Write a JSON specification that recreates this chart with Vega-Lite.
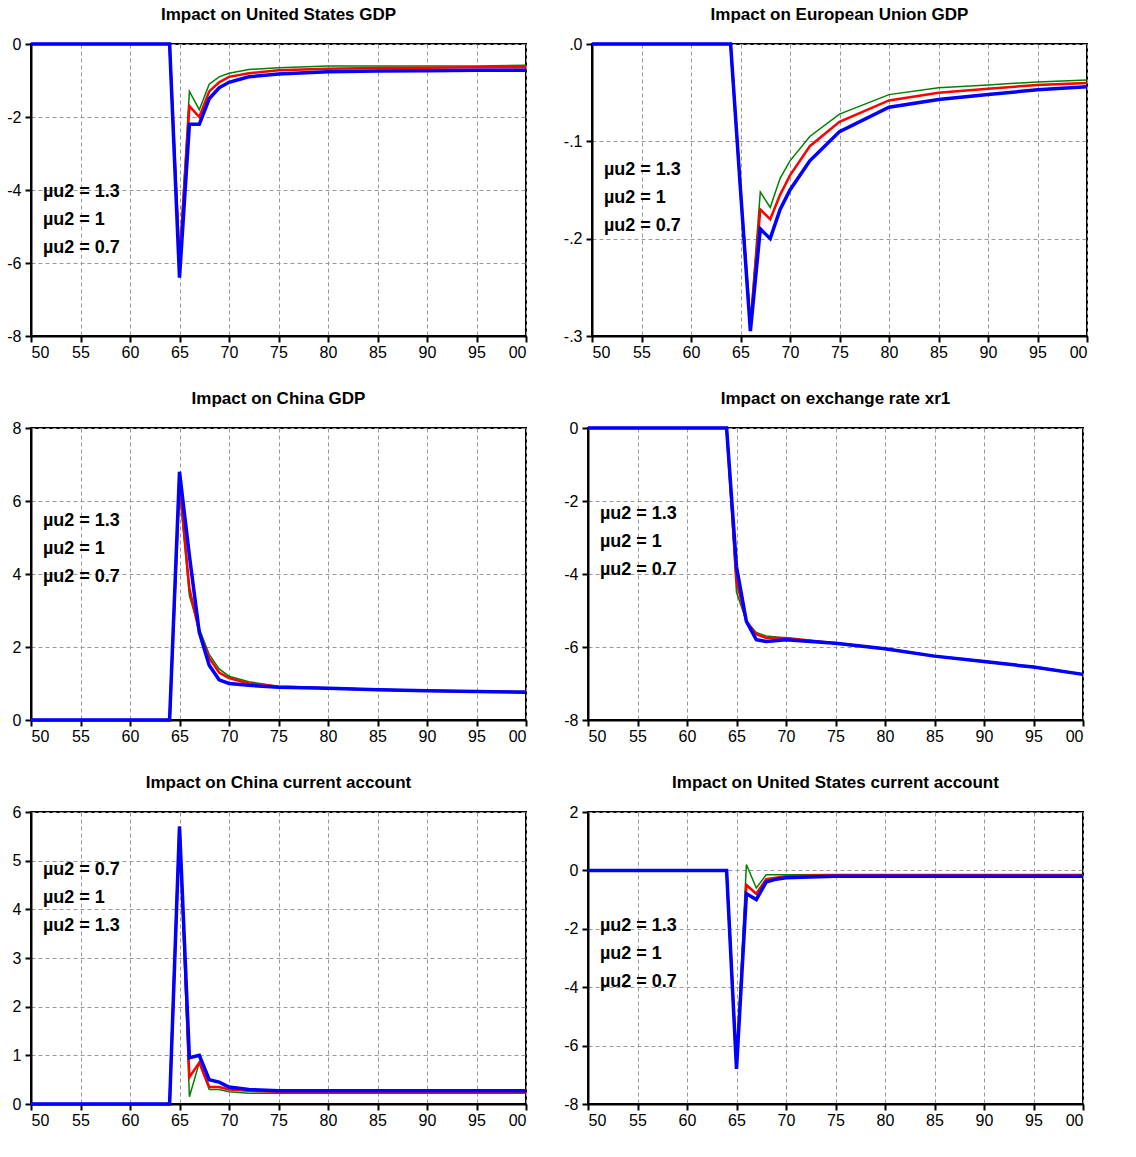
{
  "$schema": "https://vega.github.io/schema/vega-lite/v6.json",
  "background": "white",
  "padding": {"left": 5, "top": 5, "right": 5, "bottom": 5},
  "datasets": {
    "d": [
      {"p": 1, "t": 50, "g": 0, "r": 0, "b": 0},
      {"p": 1, "t": 64, "g": 0, "r": 0, "b": 0},
      {"p": 1, "t": 65, "g": -5.8, "r": -6.0, "b": -6.4},
      {"p": 1, "t": 66, "g": -1.3, "r": -1.7, "b": -2.2},
      {"p": 1, "t": 67, "g": -1.8, "r": -2.0, "b": -2.2},
      {"p": 1, "t": 68, "g": -1.1, "r": -1.3, "b": -1.5},
      {"p": 1, "t": 69, "g": -0.9, "r": -1.05, "b": -1.2},
      {"p": 1, "t": 70, "g": -0.8, "r": -0.9, "b": -1.05},
      {"p": 1, "t": 72, "g": -0.7, "r": -0.8, "b": -0.9},
      {"p": 1, "t": 75, "g": -0.65, "r": -0.72, "b": -0.82},
      {"p": 1, "t": 80, "g": -0.6, "r": -0.68, "b": -0.76},
      {"p": 1, "t": 85, "g": -0.6, "r": -0.66, "b": -0.74},
      {"p": 1, "t": 90, "g": -0.6, "r": -0.65, "b": -0.73},
      {"p": 1, "t": 95, "g": -0.6, "r": -0.64, "b": -0.72},
      {"p": 1, "t": 100, "g": -0.58, "r": -0.64, "b": -0.72},
      {"p": 2, "t": 50, "g": 0, "r": 0, "b": 0},
      {"p": 2, "t": 64, "g": 0, "r": 0, "b": 0},
      {"p": 2, "t": 65, "g": -0.15, "r": -0.15, "b": -0.15},
      {"p": 2, "t": 66, "g": -0.285, "r": -0.29, "b": -0.295},
      {"p": 2, "t": 67, "g": -0.152, "r": -0.17, "b": -0.19},
      {"p": 2, "t": 68, "g": -0.168, "r": -0.18, "b": -0.2},
      {"p": 2, "t": 69, "g": -0.138, "r": -0.155, "b": -0.17},
      {"p": 2, "t": 70, "g": -0.12, "r": -0.135, "b": -0.15},
      {"p": 2, "t": 72, "g": -0.095, "r": -0.105, "b": -0.12},
      {"p": 2, "t": 75, "g": -0.072, "r": -0.08, "b": -0.09},
      {"p": 2, "t": 80, "g": -0.052, "r": -0.058, "b": -0.065},
      {"p": 2, "t": 85, "g": -0.045, "r": -0.05, "b": -0.057},
      {"p": 2, "t": 90, "g": -0.042, "r": -0.046, "b": -0.052},
      {"p": 2, "t": 95, "g": -0.039, "r": -0.042, "b": -0.047},
      {"p": 2, "t": 100, "g": -0.037, "r": -0.04, "b": -0.044},
      {"p": 3, "t": 50, "g": 0, "r": 0, "b": 0},
      {"p": 3, "t": 64, "g": 0, "r": 0, "b": 0},
      {"p": 3, "t": 65, "g": 6.3, "r": 6.5, "b": 6.8},
      {"p": 3, "t": 66, "g": 3.4, "r": 3.6, "b": 4.5},
      {"p": 3, "t": 67, "g": 2.5, "r": 2.4, "b": 2.4},
      {"p": 3, "t": 68, "g": 1.8, "r": 1.7, "b": 1.5},
      {"p": 3, "t": 69, "g": 1.4, "r": 1.3, "b": 1.1},
      {"p": 3, "t": 70, "g": 1.2, "r": 1.15, "b": 1.0},
      {"p": 3, "t": 72, "g": 1.05, "r": 1.0, "b": 0.95},
      {"p": 3, "t": 75, "g": 0.92, "r": 0.92, "b": 0.9},
      {"p": 3, "t": 80, "g": 0.88, "r": 0.87, "b": 0.87},
      {"p": 3, "t": 85, "g": 0.84, "r": 0.83, "b": 0.83},
      {"p": 3, "t": 90, "g": 0.81, "r": 0.8, "b": 0.8},
      {"p": 3, "t": 95, "g": 0.79, "r": 0.78, "b": 0.78},
      {"p": 3, "t": 100, "g": 0.78, "r": 0.77, "b": 0.76},
      {"p": 4, "t": 50, "g": 0, "r": 0, "b": 0},
      {"p": 4, "t": 64, "g": 0, "r": 0, "b": 0},
      {"p": 4, "t": 65, "g": -4.5, "r": -4.2, "b": -3.8},
      {"p": 4, "t": 66, "g": -5.3, "r": -5.3, "b": -5.3},
      {"p": 4, "t": 67, "g": -5.6, "r": -5.65, "b": -5.8},
      {"p": 4, "t": 68, "g": -5.7, "r": -5.75, "b": -5.85},
      {"p": 4, "t": 70, "g": -5.75, "r": -5.75, "b": -5.8},
      {"p": 4, "t": 75, "g": -5.9, "r": -5.9, "b": -5.9},
      {"p": 4, "t": 80, "g": -6.05, "r": -6.05, "b": -6.05},
      {"p": 4, "t": 85, "g": -6.25, "r": -6.25, "b": -6.25},
      {"p": 4, "t": 90, "g": -6.4, "r": -6.4, "b": -6.4},
      {"p": 4, "t": 95, "g": -6.55, "r": -6.55, "b": -6.55},
      {"p": 4, "t": 100, "g": -6.75, "r": -6.75, "b": -6.75},
      {"p": 5, "t": 50, "g": 0, "r": 0, "b": 0},
      {"p": 5, "t": 64, "g": 0, "r": 0, "b": 0},
      {"p": 5, "t": 65, "g": 5.7, "r": 5.7, "b": 5.7},
      {"p": 5, "t": 66, "g": 0.15, "r": 0.55, "b": 0.95},
      {"p": 5, "t": 67, "g": 0.85, "r": 0.85, "b": 1.0},
      {"p": 5, "t": 68, "g": 0.3, "r": 0.35, "b": 0.5},
      {"p": 5, "t": 69, "g": 0.3, "r": 0.35, "b": 0.45},
      {"p": 5, "t": 70, "g": 0.25, "r": 0.3, "b": 0.35},
      {"p": 5, "t": 72, "g": 0.22, "r": 0.27, "b": 0.3},
      {"p": 5, "t": 75, "g": 0.22, "r": 0.25, "b": 0.27},
      {"p": 5, "t": 100, "g": 0.22, "r": 0.25, "b": 0.27},
      {"p": 6, "t": 50, "g": 0, "r": 0, "b": 0},
      {"p": 6, "t": 64, "g": 0, "r": 0, "b": 0},
      {"p": 6, "t": 65, "g": -6.6, "r": -6.7, "b": -6.8},
      {"p": 6, "t": 66, "g": 0.2, "r": -0.5, "b": -0.8},
      {"p": 6, "t": 67, "g": -0.6, "r": -0.8, "b": -1.0},
      {"p": 6, "t": 68, "g": -0.15, "r": -0.3, "b": -0.4},
      {"p": 6, "t": 69, "g": -0.15, "r": -0.25, "b": -0.3},
      {"p": 6, "t": 70, "g": -0.15, "r": -0.2, "b": -0.25},
      {"p": 6, "t": 75, "g": -0.14, "r": -0.17, "b": -0.2},
      {"p": 6, "t": 100, "g": -0.14, "r": -0.17, "b": -0.2}
    ],
    "one": [{}]
  },
  "config": {
    "font": "Liberation Sans",
    "view": {"stroke": "black", "strokeWidth": 2},
    "title": {"fontSize": 17, "fontWeight": "bold", "font": "Liberation Sans", "color": "black", "offset": 12},
    "axis": {
      "title": null, "grid": true, "gridDash": [4, 3], "gridColor": "#999", "gridWidth": 1,
      "domainColor": "black", "domainWidth": 2, "tickColor": "black", "tickWidth": 2, "tickSize": 6,
      "labelFontSize": 16, "labelFont": "Liberation Sans", "labelColor": "black"
    },
    "axisY": {"labelExpr": "replace(datum.label, '\u2212', '-')", "labelPadding": 4},
    "text": {"color": "black"},
    "concat": {"spacing": 28}
  },
  "vconcat": [
    {"hconcat": [
      {"title": "Impact on United States GDP", "width": 495, "height": 292,
       "layer": [
        {"data": {"name": "d"}, "transform": [{"filter": "datum.p == 1"}, {"fold": ["g", "r", "b"], "as": ["s", "v"]}],
         "mark": {"type": "line"},
         "encoding": {
          "x": {"field": "t", "type": "quantitative", "scale": {"domain": [50, 100], "nice": false}, "axis": {"values": [50,55,60,65,70,75,80,85,90,95,100], "labelExpr": "datum.value == 100 ? '00' : datum.value"}},
          "y": {"field": "v", "type": "quantitative", "scale": {"domain": [-8, 0], "nice": false}, "axis": {"values": [-8,-6,-4,-2,0]}},
          "color": {"field": "s", "type": "nominal", "scale": {"domain": ["b","r","g"], "range": ["#0000ff","#ff0000","#008000"]}, "legend": null},
          "strokeWidth": {"field": "s", "type": "nominal", "scale": {"domain": ["b","r","g"], "range": [3.5,1.5,1.5]}, "legend": null},
          "order": {"field": "s", "sort": "ascending"}}},
        {"data": {"name": "one"}, "mark": {"type": "text", "align": "left", "baseline": "top", "fontSize": 18, "fontWeight": "bold", "lineHeight": 28},
         "encoding": {"x": {"datum": 51.2}, "y": {"datum": -3.8}, "text": {"value": ["µu2 = 1.3", "µu2 = 1", "µu2 = 0.7"]}}}
       ]},
      {"title": "Impact on European Union GDP", "width": 495, "height": 292,
       "layer": [
        {"data": {"name": "d"}, "transform": [{"filter": "datum.p == 2"}, {"fold": ["g", "r", "b"], "as": ["s", "v"]}],
         "mark": {"type": "line"},
         "encoding": {
          "x": {"field": "t", "type": "quantitative", "scale": {"domain": [50, 100], "nice": false}, "axis": {"values": [50,55,60,65,70,75,80,85,90,95,100], "labelExpr": "datum.value == 100 ? '00' : datum.value"}},
          "y": {"field": "v", "type": "quantitative", "scale": {"domain": [-0.3, 0], "nice": false}, "axis": {"values": [-0.3,-0.2,-0.1,0], "labelExpr": "replace(replace(format(datum.value, '.1f'), '0.', '.'), '\u2212', '-')"}},
          "color": {"field": "s", "type": "nominal", "scale": {"domain": ["b","r","g"], "range": ["#0000ff","#ff0000","#008000"]}, "legend": null},
          "strokeWidth": {"field": "s", "type": "nominal", "scale": {"domain": ["b","r","g"], "range": [3.5,1.5,1.5]}, "legend": null},
          "order": {"field": "s", "sort": "ascending"}}},
        {"data": {"name": "one"}, "mark": {"type": "text", "align": "left", "baseline": "top", "fontSize": 18, "fontWeight": "bold", "lineHeight": 28},
         "encoding": {"x": {"datum": 51.2}, "y": {"datum": -0.12}, "text": {"value": ["µu2 = 1.3", "µu2 = 1", "µu2 = 0.7"]}}}
       ]}
    ]},
    {"hconcat": [
      {"title": "Impact on China GDP", "width": 495, "height": 292,
       "layer": [
        {"data": {"name": "d"}, "transform": [{"filter": "datum.p == 3"}, {"fold": ["g", "r", "b"], "as": ["s", "v"]}],
         "mark": {"type": "line"},
         "encoding": {
          "x": {"field": "t", "type": "quantitative", "scale": {"domain": [50, 100], "nice": false}, "axis": {"values": [50,55,60,65,70,75,80,85,90,95,100], "labelExpr": "datum.value == 100 ? '00' : datum.value"}},
          "y": {"field": "v", "type": "quantitative", "scale": {"domain": [0, 8], "nice": false}, "axis": {"values": [0,2,4,6,8]}},
          "color": {"field": "s", "type": "nominal", "scale": {"domain": ["b","r","g"], "range": ["#0000ff","#ff0000","#008000"]}, "legend": null},
          "strokeWidth": {"field": "s", "type": "nominal", "scale": {"domain": ["b","r","g"], "range": [3.5,1.5,1.5]}, "legend": null},
          "order": {"field": "s", "sort": "ascending"}}},
        {"data": {"name": "one"}, "mark": {"type": "text", "align": "left", "baseline": "top", "fontSize": 18, "fontWeight": "bold", "lineHeight": 28},
         "encoding": {"x": {"datum": 51.2}, "y": {"datum": 5.7}, "text": {"value": ["µu2 = 1.3", "µu2 = 1", "µu2 = 0.7"]}}}
       ]},
      {"title": "Impact on exchange rate xr1", "width": 495, "height": 292,
       "layer": [
        {"data": {"name": "d"}, "transform": [{"filter": "datum.p == 4"}, {"fold": ["g", "r", "b"], "as": ["s", "v"]}],
         "mark": {"type": "line"},
         "encoding": {
          "x": {"field": "t", "type": "quantitative", "scale": {"domain": [50, 100], "nice": false}, "axis": {"values": [50,55,60,65,70,75,80,85,90,95,100], "labelExpr": "datum.value == 100 ? '00' : datum.value"}},
          "y": {"field": "v", "type": "quantitative", "scale": {"domain": [-8, 0], "nice": false}, "axis": {"values": [-8,-6,-4,-2,0]}},
          "color": {"field": "s", "type": "nominal", "scale": {"domain": ["b","r","g"], "range": ["#0000ff","#ff0000","#008000"]}, "legend": null},
          "strokeWidth": {"field": "s", "type": "nominal", "scale": {"domain": ["b","r","g"], "range": [3.5,1.5,1.5]}, "legend": null},
          "order": {"field": "s", "sort": "ascending"}}},
        {"data": {"name": "one"}, "mark": {"type": "text", "align": "left", "baseline": "top", "fontSize": 18, "fontWeight": "bold", "lineHeight": 28},
         "encoding": {"x": {"datum": 51.2}, "y": {"datum": -2.1}, "text": {"value": ["µu2 = 1.3", "µu2 = 1", "µu2 = 0.7"]}}}
       ]}
    ]},
    {"hconcat": [
      {"title": "Impact on China current account", "width": 495, "height": 292,
       "layer": [
        {"data": {"name": "d"}, "transform": [{"filter": "datum.p == 5"}, {"fold": ["g", "r", "b"], "as": ["s", "v"]}],
         "mark": {"type": "line"},
         "encoding": {
          "x": {"field": "t", "type": "quantitative", "scale": {"domain": [50, 100], "nice": false}, "axis": {"values": [50,55,60,65,70,75,80,85,90,95,100], "labelExpr": "datum.value == 100 ? '00' : datum.value"}},
          "y": {"field": "v", "type": "quantitative", "scale": {"domain": [0, 6], "nice": false}, "axis": {"values": [0,1,2,3,4,5,6]}},
          "color": {"field": "s", "type": "nominal", "scale": {"domain": ["b","r","g"], "range": ["#0000ff","#ff0000","#008000"]}, "legend": null},
          "strokeWidth": {"field": "s", "type": "nominal", "scale": {"domain": ["b","r","g"], "range": [3.5,1.5,1.5]}, "legend": null},
          "order": {"field": "s", "sort": "ascending"}}},
        {"data": {"name": "one"}, "mark": {"type": "text", "align": "left", "baseline": "top", "fontSize": 18, "fontWeight": "bold", "lineHeight": 28},
         "encoding": {"x": {"datum": 51.2}, "y": {"datum": 5.0}, "text": {"value": ["µu2 = 0.7", "µu2 = 1", "µu2 = 1.3"]}}}
       ]},
      {"title": "Impact on United States current account", "width": 495, "height": 292,
       "layer": [
        {"data": {"name": "d"}, "transform": [{"filter": "datum.p == 6"}, {"fold": ["g", "r", "b"], "as": ["s", "v"]}],
         "mark": {"type": "line"},
         "encoding": {
          "x": {"field": "t", "type": "quantitative", "scale": {"domain": [50, 100], "nice": false}, "axis": {"values": [50,55,60,65,70,75,80,85,90,95,100], "labelExpr": "datum.value == 100 ? '00' : datum.value"}},
          "y": {"field": "v", "type": "quantitative", "scale": {"domain": [-8, 2], "nice": false}, "axis": {"values": [-8,-6,-4,-2,0,2]}},
          "color": {"field": "s", "type": "nominal", "scale": {"domain": ["b","r","g"], "range": ["#0000ff","#ff0000","#008000"]}, "legend": null},
          "strokeWidth": {"field": "s", "type": "nominal", "scale": {"domain": ["b","r","g"], "range": [3.5,1.5,1.5]}, "legend": null},
          "order": {"field": "s", "sort": "ascending"}}},
        {"data": {"name": "one"}, "mark": {"type": "text", "align": "left", "baseline": "top", "fontSize": 18, "fontWeight": "bold", "lineHeight": 28},
         "encoding": {"x": {"datum": 51.2}, "y": {"datum": -1.6}, "text": {"value": ["µu2 = 1.3", "µu2 = 1", "µu2 = 0.7"]}}}
       ]}
    ]}
  ]
}
